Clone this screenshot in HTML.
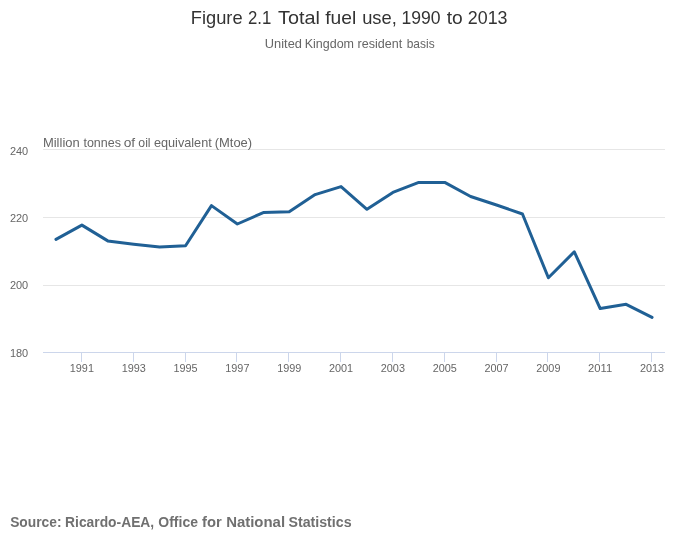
<!DOCTYPE html>
<html><head><meta charset="utf-8"><title>Figure 2.1 Total fuel use, 1990 to 2013</title>
<style>
html,body{margin:0;padding:0;background:#fff;}
svg{display:block;will-change:transform;font-family:"Liberation Sans",Arial,sans-serif;}
</style></head><body>
<svg width="700" height="549" viewBox="0 0 700 549">
<rect x="0" y="0" width="700" height="549" fill="#fff"/>
<text x="190.83" y="23.6" font-size="18.4" fill="#333" textLength="51.77" lengthAdjust="spacingAndGlyphs">Figure</text><text x="248.00" y="23.6" font-size="18.4" fill="#333" textLength="23.32" lengthAdjust="spacingAndGlyphs">2.1</text><text x="277.99" y="23.6" font-size="18.4" fill="#333" textLength="41.85" lengthAdjust="spacingAndGlyphs">Total</text><text x="325.26" y="23.6" font-size="18.4" fill="#333" textLength="31.05" lengthAdjust="spacingAndGlyphs">fuel</text><text x="362.13" y="23.6" font-size="18.4" fill="#333" textLength="34.67" lengthAdjust="spacingAndGlyphs">use,</text><text x="401.56" y="23.6" font-size="18.4" fill="#333" textLength="39.09" lengthAdjust="spacingAndGlyphs">1990</text><text x="446.72" y="23.6" font-size="18.4" fill="#333" textLength="16.03" lengthAdjust="spacingAndGlyphs">to</text><text x="467.83" y="23.6" font-size="18.4" fill="#333" textLength="39.72" lengthAdjust="spacingAndGlyphs">2013</text>
<text x="264.87" y="47.6" font-size="12.2" fill="#666" textLength="37.08" lengthAdjust="spacingAndGlyphs">United</text><text x="304.67" y="47.6" font-size="12.2" fill="#666" textLength="49.39" lengthAdjust="spacingAndGlyphs">Kingdom</text><text x="357.56" y="47.6" font-size="12.2" fill="#666" textLength="44.62" lengthAdjust="spacingAndGlyphs">resident</text><text x="406.73" y="47.6" font-size="12.2" fill="#666" textLength="27.88" lengthAdjust="spacingAndGlyphs">basis</text>
<path d="M43 149.5H665M43 217.5H665M43 285.5H665" stroke="#e6e6e6" stroke-width="1" fill="none"/>
<g stroke="#ccd6eb" stroke-width="1" fill="none"><path d="M43 352.5H665"/><path d="M81.5 352.5V362"/><path d="M133.5 352.5V362"/><path d="M185.5 352.5V362"/><path d="M236.5 352.5V362"/><path d="M288.5 352.5V362"/><path d="M340.5 352.5V362"/><path d="M392.5 352.5V362"/><path d="M444.5 352.5V362"/><path d="M496.5 352.5V362"/><path d="M547.5 352.5V362"/><path d="M599.5 352.5V362"/><path d="M651.5 352.5V362"/></g>
<text x="42.93" y="147" font-size="12.2" fill="#666" textLength="36.78" lengthAdjust="spacingAndGlyphs">Million</text><text x="83.43" y="147" font-size="12.2" fill="#666" textLength="37.48" lengthAdjust="spacingAndGlyphs">tonnes</text><text x="123.66" y="147" font-size="12.2" fill="#666" textLength="11.50" lengthAdjust="spacingAndGlyphs">of</text><text x="138.34" y="147" font-size="12.2" fill="#666" textLength="12.27" lengthAdjust="spacingAndGlyphs">oil</text><text x="153.92" y="147" font-size="12.2" fill="#666" textLength="57.87" lengthAdjust="spacingAndGlyphs">equivalent</text><text x="214.69" y="147" font-size="12.2" fill="#666" textLength="37.46" lengthAdjust="spacingAndGlyphs">(Mtoe)</text>
<text x="28.20" y="155" font-size="11.2" fill="#666" text-anchor="end" textLength="18.30" lengthAdjust="spacingAndGlyphs">240</text><text x="28.20" y="222" font-size="11.2" fill="#666" text-anchor="end" textLength="18.30" lengthAdjust="spacingAndGlyphs">220</text><text x="28.20" y="289" font-size="11.2" fill="#666" text-anchor="end" textLength="18.30" lengthAdjust="spacingAndGlyphs">200</text><text x="28.20" y="357" font-size="11.2" fill="#666" text-anchor="end" textLength="18.30" lengthAdjust="spacingAndGlyphs">180</text>
<text x="81.88" y="372" font-size="11.2" fill="#666" text-anchor="middle" textLength="24.15" lengthAdjust="spacingAndGlyphs">1991</text><text x="133.71" y="372" font-size="11.2" fill="#666" text-anchor="middle" textLength="24.15" lengthAdjust="spacingAndGlyphs">1993</text><text x="185.54" y="372" font-size="11.2" fill="#666" text-anchor="middle" textLength="24.15" lengthAdjust="spacingAndGlyphs">1995</text><text x="237.38" y="372" font-size="11.2" fill="#666" text-anchor="middle" textLength="24.15" lengthAdjust="spacingAndGlyphs">1997</text><text x="289.21" y="372" font-size="11.2" fill="#666" text-anchor="middle" textLength="24.15" lengthAdjust="spacingAndGlyphs">1999</text><text x="341.04" y="372" font-size="11.2" fill="#666" text-anchor="middle" textLength="24.15" lengthAdjust="spacingAndGlyphs">2001</text><text x="392.88" y="372" font-size="11.2" fill="#666" text-anchor="middle" textLength="24.15" lengthAdjust="spacingAndGlyphs">2003</text><text x="444.71" y="372" font-size="11.2" fill="#666" text-anchor="middle" textLength="24.15" lengthAdjust="spacingAndGlyphs">2005</text><text x="496.54" y="372" font-size="11.2" fill="#666" text-anchor="middle" textLength="24.15" lengthAdjust="spacingAndGlyphs">2007</text><text x="548.38" y="372" font-size="11.2" fill="#666" text-anchor="middle" textLength="24.15" lengthAdjust="spacingAndGlyphs">2009</text><text x="600.21" y="372" font-size="11.2" fill="#666" text-anchor="middle" textLength="24.15" lengthAdjust="spacingAndGlyphs">2011</text><text x="652.04" y="372" font-size="11.2" fill="#666" text-anchor="middle" textLength="24.15" lengthAdjust="spacingAndGlyphs">2013</text>
<polyline points="55.96,239.4 81.88,225.1 107.79,240.9 133.71,244.2 159.62,247.1 185.54,245.8 211.46,205.6 237.38,224.0 263.29,212.6 289.21,211.7 315.12,194.6 341.04,186.6 366.96,209.3 392.88,192.4 418.79,182.4 444.71,182.4 470.62,196.5 496.54,205.0 522.46,214.0 548.38,277.8 574.29,251.8 600.21,308.6 626.13,304.3 652.04,317.4" fill="none" stroke="#206095" stroke-width="3" stroke-linejoin="round" stroke-linecap="round"/>
<text x="10.14" y="526.7" font-size="14" fill="#707070" font-weight="bold" textLength="51.38" lengthAdjust="spacingAndGlyphs">Source:</text><text x="65.08" y="526.7" font-size="14" fill="#707070" font-weight="bold" textLength="89.10" lengthAdjust="spacingAndGlyphs">Ricardo-AEA,</text><text x="158.34" y="526.7" font-size="14" fill="#707070" font-weight="bold" textLength="39.62" lengthAdjust="spacingAndGlyphs">Office</text><text x="202.14" y="526.7" font-size="14" fill="#707070" font-weight="bold" textLength="19.68" lengthAdjust="spacingAndGlyphs">for</text><text x="226.17" y="526.7" font-size="14" fill="#707070" font-weight="bold" textLength="58.89" lengthAdjust="spacingAndGlyphs">National</text><text x="288.43" y="526.7" font-size="14" fill="#707070" font-weight="bold" textLength="63.17" lengthAdjust="spacingAndGlyphs">Statistics</text>
</svg>
</body></html>
